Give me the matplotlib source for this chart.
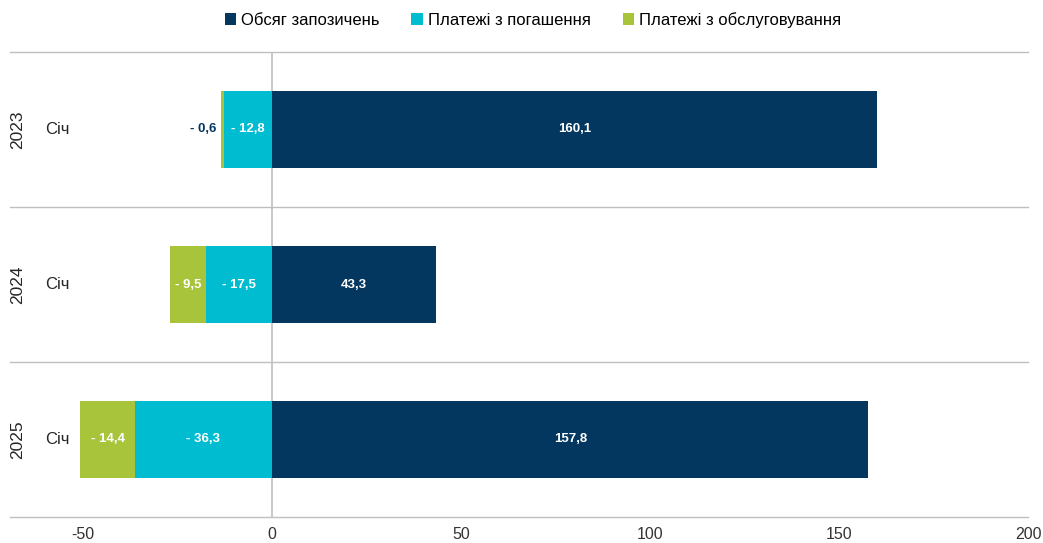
import matplotlib.pyplot as plt
import matplotlib.transforms as mtransforms

plt.rcParams['font.family'] = ['Liberation Sans', 'DejaVu Sans']

# data
years = ["2023", "2024", "2025"]
months = ["Січ", "Січ", "Січ"]
borrowing = [160.1, 43.3, 157.8]
repayment = [-12.8, -17.5, -36.3]
servicing = [-0.6, -9.5, -14.4]

c_borrow = "#04375F"
c_repay = "#00BCD0"
c_serv = "#A8C43B"
grid_c = "#BFBFBF"

W, H = 1043, 543
fig = plt.figure(figsize=(W / 100, H / 100), dpi=100)
ax = fig.add_axes([83 / W, 26 / H, (1028 - 83) / W, (517 - 52) / H])

# top category first
ys = [2, 1, 0]
h = 0.5

ax.barh(ys, borrowing, height=h, color=c_borrow, label="Обсяг запозичень", zorder=3)
ax.barh(ys, repayment, height=h, color=c_repay, label="Платежі з погашення", zorder=3)
ax.barh(ys, servicing, left=repayment, height=h, color=c_serv,
        label="Платежі з обслуговування", zorder=3, clip_on=False)

def fmt(v):
    s = f"{abs(v):.1f}".replace(".", ",")
    return ("- " + s) if v < 0 else s

for y, b, r, s in zip(ys, borrowing, repayment, servicing):
    ax.text(b / 2, y, fmt(b), color="white", fontsize=9.5, fontweight="bold",
            ha="center", va="center", zorder=4)
    ax.text(r / 2, y, fmt(r), color="white", fontsize=9.5, fontweight="bold",
            ha="center", va="center", zorder=4)
    if abs(s) < 3:
        ax.text(r + s - 1.3, y, fmt(s), color=c_borrow, fontsize=9.5, fontweight="bold",
                ha="right", va="center", zorder=4)
    else:
        ax.text(r + s / 2, y, fmt(s), color="white", fontsize=9.5, fontweight="bold",
                ha="center", va="center", zorder=4)

ax.set_xlim(-50, 200)
ax.set_ylim(-0.5, 2.5)
ax.set_xticks([-50, 0, 50, 100, 150, 200])
ax.set_xticklabels(["-50", "0", "50", "100", "150", "200"])
ax.tick_params(axis="x", length=0, labelsize=11.5, colors="#333333", pad=7)
ax.set_yticks([])
for sp in ax.spines.values():
    sp.set_visible(False)

# category separator lines extending into label area
trans = mtransforms.blended_transform_factory(ax.transAxes, ax.transData)
x0 = (10 - 83) / (1028 - 83)
for yl in [-0.5, 0.5, 1.5, 2.5]:
    ax.plot([x0, 1], [yl, yl], color=grid_c, lw=1, transform=trans, clip_on=False, zorder=1)
ax.axvline(0, color=grid_c, lw=1.2, zorder=2)

# multi-level category labels
for y, yr, m in zip(ys, years, months):
    ax.text((57 - 83) / 945, y, m, transform=trans, fontsize=12, color="#262626",
            ha="center", va="center")
    ax.text((18 - 83) / 945, y, yr, transform=trans, fontsize=12.5, color="#262626",
            ha="center", va="center", rotation=90)

fig.legend(loc="upper center", bbox_to_anchor=(0.511, 1.005), ncol=3, frameon=False,
           fontsize=12, handlelength=0.7, handleheight=0.7, handletextpad=0.3,
           columnspacing=1.9)

fig.savefig("out.png", dpi=100)
